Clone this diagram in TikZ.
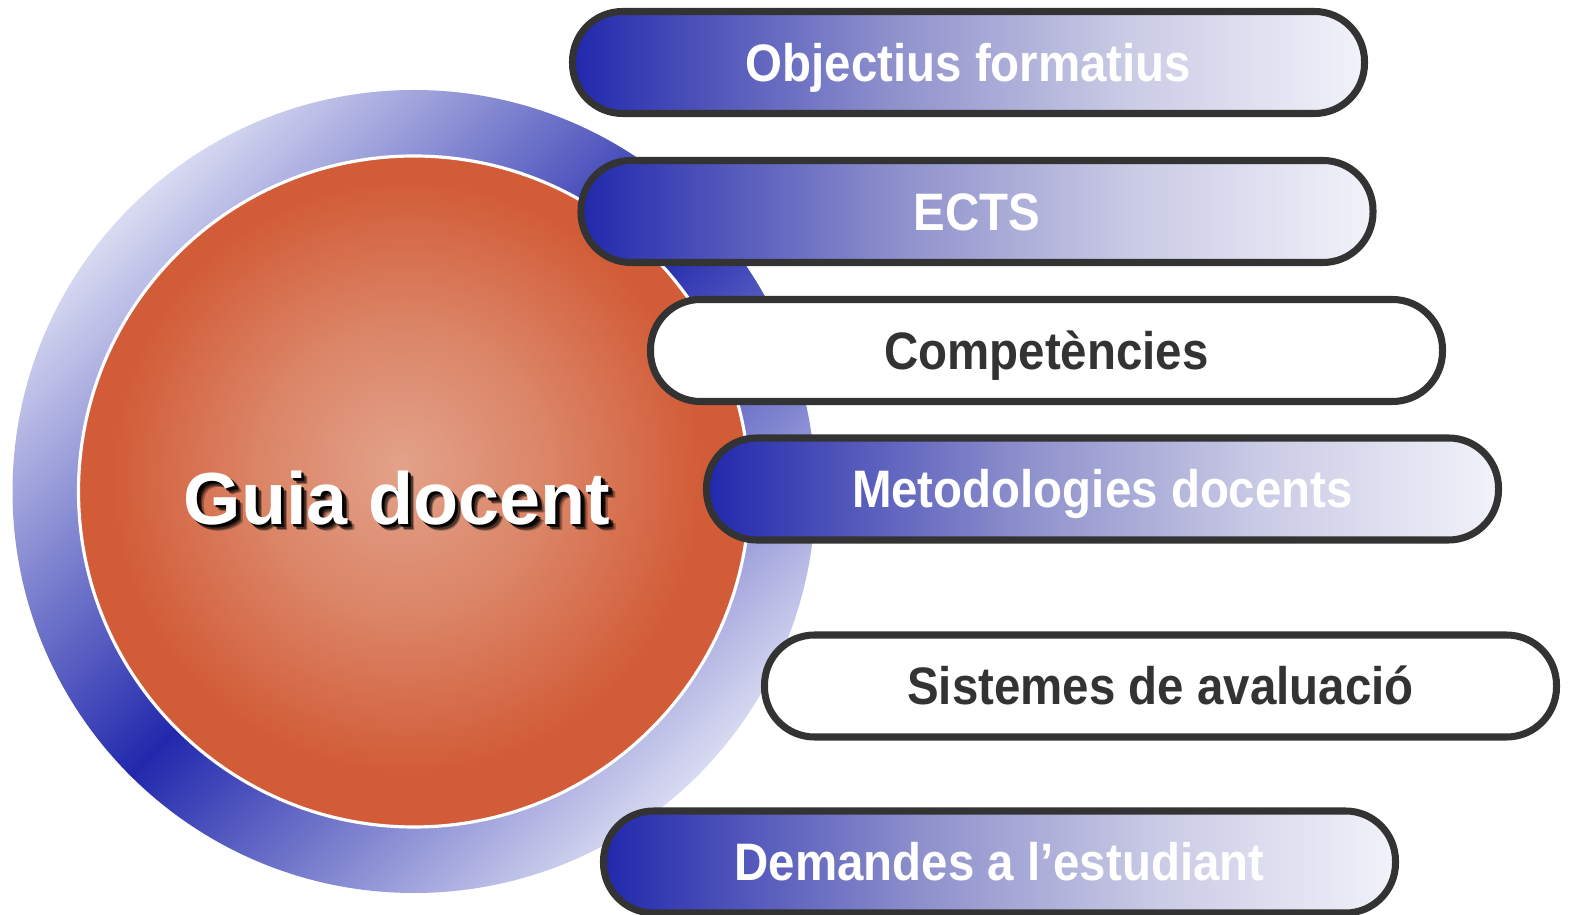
\documentclass[tikz,border=0pt]{standalone}
\usepackage{fontspec}
\setmainfont{Liberation Sans}
\newfontfamily\pillfont[FakeStretch=0.9]{Liberation Sans}
\definecolor{ringdark}{RGB}{33,40,172}
\definecolor{ringlight}{RGB}{216,218,241}
\definecolor{pillmid}{RGB}{142,144,204}
\definecolor{pillpale}{RGB}{202,203,229}
\definecolor{pillend}{RGB}{242,242,250}
\definecolor{orangelight}{RGB}{226,162,138}
\definecolor{orangemid}{RGB}{219,132,102}
\definecolor{orangedark}{RGB}{210,92,56}
\definecolor{pillline}{RGB}{51,51,51}
\pgfdeclareverticalshading{ringshade}{100bp}{color(0bp)=(ringlight); color(25bp)=(ringlight); color(50bp)=(ringdark); color(75bp)=(ringlight); color(100bp)=(ringlight)}
\pgfdeclarehorizontalshading{pillshade}{100bp}{color(0bp)=(ringdark); color(25bp)=(ringdark); color(45bp)=(pillmid); color(60bp)=(pillpale); color(75bp)=(pillend); color(100bp)=(pillend)}
\pgfdeclareradialshading{ballshade}{\pgfpoint{-1bp}{2bp}}{color(0bp)=(orangelight); color(11bp)=(orangemid); color(22bp)=(orangedark); color(25bp)=(orangedark); color(50bp)=(orangedark)}
\tikzset{
  pill/.style={draw=pillline,line width=2pt,rounded corners=0.5cm,
    minimum width=7.92cm,minimum height=1.02cm,text height=10.8pt,text depth=0pt,
    font=\pillfont\bfseries\fontsize{15}{18}\selectfont},
  bluepill/.style={pill,shading=pillshade,text=white},
  whitepill/.style={pill,fill=white,text=pillline},
  guiatext/.style={font=\bfseries\fontsize{21}{25}\selectfont,inner sep=0pt}
}
\begin{document}
\begin{tikzpicture}
    \useasboundingbox (0,0) rectangle (15.7,9.15);
    % ring and ball
    \node[circle,inner sep=0pt,minimum size=8.03cm,shading=ringshade,shading angle=45] (ring) at (4.14,4.235) {};
    \node[circle,inner sep=0pt,minimum size=6.71cm,draw=white,line width=0.9pt,shading=ballshade] (ball) at (ring.center) {};
    % title with shadow
    \coordinate (gc) at (3.97,4.17);
    \foreach \d/\op in {0.065/0.3,0.05/0.5,0.035/0.75,0.02/0.9}
        \node[guiatext,text=black,opacity=\op] at ([shift={(\d,-\d)}]gc) {Guia docent};
    \node[guiatext,text=white] (guia) at (gc) {Guia docent};
    % items
    \node[bluepill] (obj) at (9.685,8.525) {Objectius formatius};
    \node[bluepill] (ects) at (9.77,7.035) {ECTS};
    \node[whitepill] (comp) at (10.465,5.645) {Competències};
    \node[bluepill] (metod) at (11.025,4.26) {Metodologies docents};
    \node[whitepill] (aval) at (11.605,2.29) {Sistemes de avaluació};
    \node[bluepill] (dem) at (9.995,0.53) {Demandes a l’estudiant};
\end{tikzpicture}
\end{document}
